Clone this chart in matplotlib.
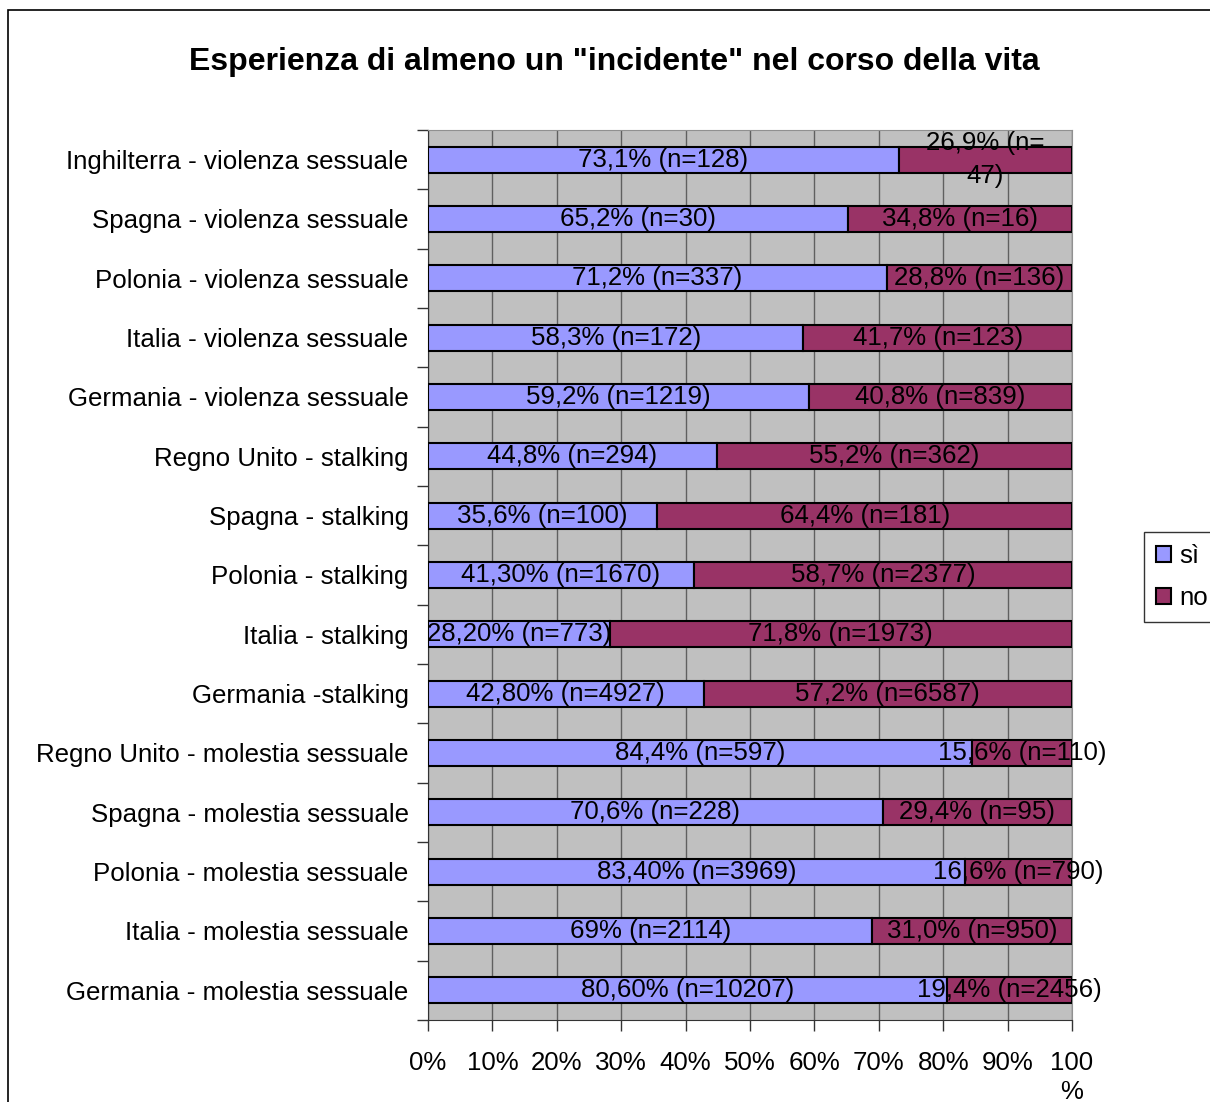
import matplotlib
matplotlib.use("Agg")
import matplotlib.pyplot as plt
import matplotlib.patches as mpatches
import numpy as np

plt.rcParams["font.family"] = ["Liberation Sans", "DejaVu Sans"]

# categories, top to bottom as in the chart
CATEGORIES = [
    "Inghilterra - violenza sessuale",
    "Spagna - violenza sessuale",
    "Polonia - violenza sessuale",
    "Italia - violenza sessuale",
    "Germania - violenza sessuale",
    "Regno Unito - stalking",
    "Spagna - stalking",
    "Polonia - stalking",
    "Italia - stalking",
    "Germania -stalking",
    "Regno Unito - molestia sessuale",
    "Spagna - molestia sessuale",
    "Polonia - molestia sessuale",
    "Italia - molestia sessuale",
    "Germania - molestia sessuale",
]

SI_PCT = [73.1, 65.2, 71.2, 58.3, 59.2, 44.8, 35.6, 41.3, 28.2, 42.8,
          84.4, 70.6, 83.4, 69.0, 80.6]
NO_PCT = [26.9, 34.8, 28.8, 41.7, 40.8, 55.2, 64.4, 58.7, 71.8, 57.2,
          15.6, 29.4, 16.6, 31.0, 19.4]

SI_LABELS = ["73,1% (n=128)", "65,2% (n=30)", "71,2% (n=337)", "58,3% (n=172)",
             "59,2% (n=1219)", "44,8% (n=294)", "35,6% (n=100)", "41,30% (n=1670)",
             "28,20% (n=773)", "42,80% (n=4927)", "84,4% (n=597)", "70,6% (n=228)",
             "83,40% (n=3969)", "69% (n=2114)", "80,60% (n=10207)"]
NO_LABELS = ["26,9% (n=\n47)", "34,8% (n=16)", "28,8% (n=136)", "41,7% (n=123)",
             "40,8% (n=839)", "55,2% (n=362)", "64,4% (n=181)", "58,7% (n=2377)",
             "71,8% (n=1973)", "57,2% (n=6587)", "15,6% (n=110)", "29,4% (n=95)",
             "16,6% (n=790)", "31,0% (n=950)", "19,4% (n=2456)"]

X_TICKS = [0, 10, 20, 30, 40, 50, 60, 70, 80, 90, 100]
X_TICK_LABELS = ["0%", "10%", "20%", "30%", "40%", "50%", "60%", "70%", "80%", "90%", "100\n%"]

SI_COLOR = "#9999FF"
NO_COLOR = "#993366"
FS = 18.6

fig = plt.figure(figsize=(12.1, 11.02), dpi=100)
ax = fig.add_axes([428 / 1210, 1 - 1020 / 1102, 644 / 1210, 890 / 1102])
ax.set_facecolor("#C0C0C0")

# outer chart border (cut off right and bottom)
fig.patches.append(mpatches.Rectangle(
    (8 / 1210, -0.1), 1.2, 1 - 10 / 1102 + 0.1,
    transform=fig.transFigure, fill=False, edgecolor="black", lw=1.2))

y = np.arange(len(CATEGORIES))
h = 0.44
ax.barh(y, SI_PCT, height=h, color=SI_COLOR, edgecolor="black", lw=1.5, label="sì", zorder=3)
ax.barh(y, NO_PCT, left=SI_PCT, height=h, color=NO_COLOR, edgecolor="black", lw=1.5, label="no", zorder=3)

for i in range(len(CATEGORIES)):
    ax.text(SI_PCT[i] / 2, y[i], SI_LABELS[i], ha="center", va="center",
            fontsize=FS, zorder=5, clip_on=False)
    ax.text(SI_PCT[i] + NO_PCT[i] / 2, y[i], NO_LABELS[i], ha="center", va="center",
            fontsize=FS, zorder=5, clip_on=False, linespacing=1.5)

ax.set_xlim(0, 100)
ax.set_ylim(len(CATEGORIES) - 0.5, -0.5)
ax.set_xticks(X_TICKS)
ax.set_xticklabels(X_TICK_LABELS, fontsize=FS, linespacing=1.3)
ax.set_yticks(y)
ax.set_yticklabels(CATEGORIES, fontsize=FS)
ax.set_yticks(np.arange(len(CATEGORIES) + 1) - 0.5, minor=True)
ax.tick_params(axis="y", which="major", length=0, pad=14)
ax.tick_params(axis="y", which="minor", length=8, width=1, color="#333333")
ax.tick_params(axis="x", length=8, width=1, color="#333333", pad=14)

ax.grid(axis="x", color="#606060", lw=1, zorder=1)
ax.set_axisbelow(True)

for s in ["top", "right"]:
    ax.spines[s].set_color("#909090")
for s in ["left", "bottom"]:
    ax.spines[s].set_color("#333333")

fig.text(614 / 1210, 1 - 62 / 1102, 'Esperienza di almeno un "incidente" nel corso della vita',
         ha="center", va="center", fontsize=23, fontweight="bold")

leg = fig.legend(loc="center left", bbox_to_anchor=(1144 / 1210, 1 - 577 / 1102),
                 fontsize=FS, frameon=True, fancybox=False, edgecolor="black",
                 handlelength=0.6, handleheight=0.6, handletextpad=0.3,
                 labelspacing=0.7, borderpad=0.45, borderaxespad=0)
leg.get_frame().set_linewidth(1)

plt.savefig("out.png", dpi=100)
plt.close()
